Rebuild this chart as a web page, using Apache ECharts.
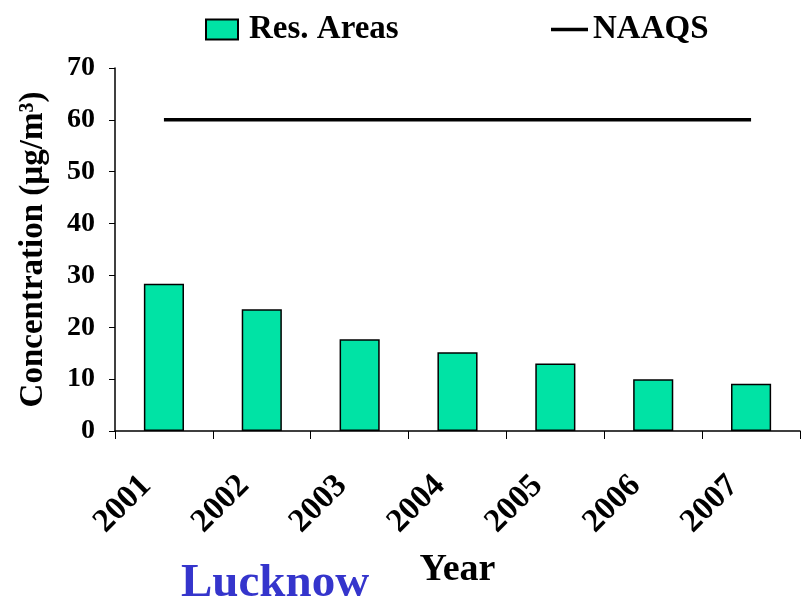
<!DOCTYPE html>
<html>
<head>
<meta charset="utf-8">
<script src="https://cdn.jsdelivr.net/npm/echarts@6/dist/echarts.min.js"></script>
<style>
  html, body { margin: 0; padding: 0; background: #fff; }
  #chart { width: 803px; height: 605px; }
</style>
</head>
<body>
<div id="chart"></div>
<script>
const years = ['2001', '2002', '2003', '2004', '2005', '2006', '2007'];
const resAreas = [28.4, 23.5, 17.7, 15.2, 13.0, 10.0, 9.1];
const naaqs = [60, 60, 60, 60, 60, 60, 60];

const font = '"Liberation Serif", "Times New Roman", serif';
const legendText = { fontFamily: font, fontWeight: 'bold', fontSize: 33, color: '#000' };

const chart = echarts.init(document.getElementById('chart'));
chart.setOption({
  animation: false,
  textStyle: { fontFamily: font, fontWeight: 'bold', color: '#000' },
  title: {
    text: 'Lucknow',
    left: 176,
    top: 555,
    textStyle: { fontFamily: font, fontWeight: 'bold', fontSize: 47, color: '#3535cc' }
  },
  legend: [
    {
      left: 205,
      top: 13,
      padding: 0,
      itemWidth: 32,
      itemHeight: 20,
      icon: 'rect',
      textStyle: Object.assign({ padding: [0, 0, 0, 6] }, legendText),
      data: ['Res. Areas']
    },
    {
      left: 551,
      top: 13,
      padding: 0,
      itemWidth: 37,
      itemHeight: 3.5,
      icon: 'rect',
      textStyle: legendText,
      data: [{ name: 'NAAQS', itemStyle: { color: '#000' } }]
    }
  ],
  grid: { left: 115, right: 3, top: 68, bottom: 174, containLabel: false, outerBoundsMode: 'none' },
  xAxis: {
    type: 'category',
    data: years,
    name: 'Year',
    nameLocation: 'middle',
    nameGap: 120,
    nameTextStyle: { fontFamily: font, fontWeight: 'bold', fontSize: 38, color: '#000' },
    axisLine: { lineStyle: { color: '#000', width: 1.5 } },
    axisTick: { show: true, length: 8, lineStyle: { color: '#000' } },
    axisLabel: {
      rotate: 45,
      interval: 0,
      margin: 32,
      padding: [0, 25, 0, 0],
      fontFamily: font,
      fontWeight: 'bold',
      fontSize: 33,
      color: '#000'
    }
  },
  yAxis: {
    type: 'value',
    min: 0,
    max: 70,
    interval: 10,
    name: 'Concentration (µg/m³)',
    nameLocation: 'middle',
    nameGap: 65,
    nameTextStyle: { fontFamily: font, fontWeight: 'bold', fontSize: 33, color: '#000' },
    axisLine: { show: true, lineStyle: { color: '#000', width: 1.5 } },
    axisTick: { show: true, inside: false, length: 6, lineStyle: { color: '#000' } },
    splitLine: { show: false },
    axisLabel: {
      margin: 20,
      fontFamily: font,
      fontWeight: 'bold',
      fontSize: 28,
      color: '#000'
    }
  },
  series: [
    {
      name: 'Res. Areas',
      type: 'bar',
      data: resAreas,
      barWidth: '41%',
      itemStyle: { color: '#00e3a5', borderColor: '#000', borderWidth: 1.5 }
    },
    {
      name: 'NAAQS',
      type: 'line',
      data: naaqs,
      symbol: 'none',
      itemStyle: { color: '#000' },
      lineStyle: { color: '#000', width: 3.5 }
    }
  ]
});
</script>
</body>
</html>
